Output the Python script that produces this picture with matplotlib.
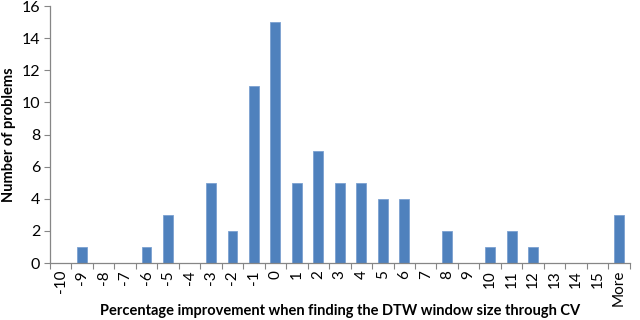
import numpy as np
import matplotlib.pyplot as plt

# Histogram data
categories = [str(v) for v in range(-10, 16)] + ['More']
counts = [0, 1, 0, 0, 1, 3, 0, 5, 2, 11, 15, 5, 7, 5, 5, 4, 4, 0, 2, 0, 1, 2, 1, 0, 0, 0, 3]
yticks = [0, 2, 4, 6, 8, 10, 12, 14, 16]

plt.rcParams['font.family'] = ['Lato', 'DejaVu Sans']

fig = plt.figure(figsize=(6.4, 3.2), dpi=100)
ax = fig.add_axes([0.078, 0.178, 0.906, 0.803])

x = np.arange(len(categories))
ax.bar(x, counts, width=0.46, color='#4F81BD', edgecolor='#7BA1D1', linewidth=0.6, zorder=2)

ax.set_xlim(-0.5, len(categories) - 0.5)
ax.set_ylim(0, 16)
ax.set_yticks(yticks)
ax.tick_params(axis='y', labelsize=11.5, length=4, color='#868686', width=0.8, pad=3)

# ticks between categories, labels centred under bars
ax.set_xticks(np.arange(len(categories) + 1) - 0.5)
ax.set_xticklabels([])
ax.set_xticks(x, minor=True)
ax.set_xticklabels(categories, minor=True, rotation=90, fontsize=11)
ax.tick_params(axis='x', which='major', length=4, color='#868686', width=0.8)
ax.tick_params(axis='x', which='minor', length=0, pad=5)

for s in ['top', 'right']:
    ax.spines[s].set_visible(False)
for s in ['left', 'bottom']:
    ax.spines[s].set_color('#868686')
    ax.spines[s].set_linewidth(0.9)

ax.set_ylabel('Number of problems', fontsize=10.5, fontweight='bold', labelpad=4)
ax.set_xlabel('Percentage improvement when finding the DTW window size through CV',
              fontsize=10.5, fontweight='bold', va='center')
ax.xaxis.set_label_coords(0.5, -0.187)

fig.savefig('out.png', dpi=100)
